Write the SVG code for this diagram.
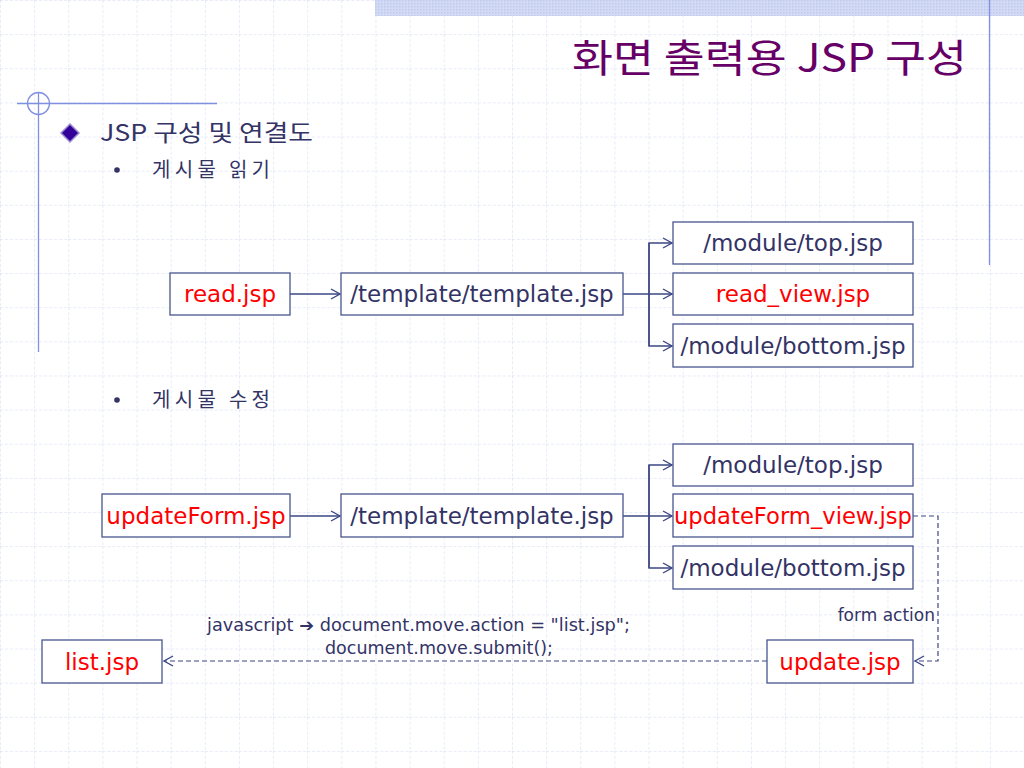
<svg xmlns="http://www.w3.org/2000/svg" width="1024" height="768" viewBox="0 0 1024 768">
<defs>
<style>
.box{fill:#ffffff;stroke:#4a5590;stroke-width:1.3}
.lbl{font-family:"DejaVu Sans",Verdana,sans-serif;font-size:23px;text-anchor:middle}
.blue{fill:#333366}
.red{fill:#ff0000}
.ko{font-family:"Noto Sans CJK KR","DejaVu Sans",sans-serif;fill:#333366}
.small{font-family:"DejaVu Sans",Verdana,sans-serif;font-size:17px;fill:#333366}
.con{fill:none;stroke:#3d4785;stroke-width:1.4}
.dash{fill:none;stroke:#3d4785;stroke-width:1.2;stroke-dasharray:5,3}
.deco{stroke:#8090e0;stroke-width:1.3;fill:none}
</style>
<pattern id="grid" x="0" y="0" width="34.133" height="34.133" patternUnits="userSpaceOnUse">
<path d="M0,0 H34.133 M0,0 V34.133" stroke="#d0d8f2" stroke-width="1" stroke-dasharray="3,2" fill="none"/>
</pattern>
<pattern id="dots" x="0" y="0" width="3" height="3" patternUnits="userSpaceOnUse">
<rect width="3" height="3" fill="#d3dbf4"/>
<rect width="1.5" height="1.5" fill="#bfcaee"/>
</pattern>
<marker id="arr" markerWidth="12" markerHeight="12" refX="10" refY="6" orient="auto" markerUnits="userSpaceOnUse">
<path d="M1,1 L10,6 L1,11" fill="none" stroke="#3d4785" stroke-width="1.4"/>
</marker>
</defs>
<rect width="1024" height="768" fill="#ffffff"/>
<rect width="1024" height="768" fill="url(#grid)"/>
<rect x="375" y="0" width="649" height="16" fill="url(#dots)"/>
<g id="decoration">
<line class="deco" x1="989.5" y1="0" x2="989.5" y2="265"/>
<line class="deco" x1="38.5" y1="92" x2="38.5" y2="352"/>
<line class="deco" x1="17" y1="103.5" x2="217" y2="103.5"/>
<circle class="deco" cx="38.5" cy="103.5" r="11"/>
</g>
<text id="title" x="572" y="72" textLength="395" lengthAdjust="spacingAndGlyphs" font-family="Noto Sans CJK KR,DejaVu Sans,sans-serif" font-size="39" fill="#660066">화면 출력용 JSP 구성</text>
<g id="heading">
<path d="M70,124 L79,133 L70,142 L61,133 Z" fill="#330099" stroke="#9a8fd0" stroke-width="1.5"/>
<text class="ko" x="100" y="141" font-size="23" textLength="213" lengthAdjust="spacingAndGlyphs">JSP 구성 및 연결도</text>
<circle cx="117" cy="170" r="2.8" fill="#333366"/>
<text class="ko" x="152" y="177" font-size="20" textLength="118" lengthAdjust="spacing">게시물 읽기</text>
<circle cx="117" cy="400" r="2.8" fill="#333366"/>
<text class="ko" x="152" y="407" font-size="20" textLength="118" lengthAdjust="spacing">게시물 수정</text>
</g>
<g id="connectors">
<line class="con" x1="290" y1="294" x2="340" y2="294" marker-end="url(#arr)"/>
<line class="con" x1="623" y1="294" x2="672" y2="294" marker-end="url(#arr)"/>
<path class="con" d="M649,346 V243 H672" marker-end="url(#arr)"/>
<path class="con" d="M649,243 V346 H672" marker-end="url(#arr)"/>
<line class="con" x1="290" y1="516" x2="340" y2="516" marker-end="url(#arr)"/>
<line class="con" x1="623" y1="516" x2="672" y2="516" marker-end="url(#arr)"/>
<path class="con" d="M649,568 V465 H672" marker-end="url(#arr)"/>
<path class="con" d="M649,465 V568 H672" marker-end="url(#arr)"/>
<path class="dash" d="M913,516 H938 V661 H915" marker-end="url(#arr)"/>
<line class="dash" x1="767" y1="661" x2="164" y2="661" marker-end="url(#arr)"/>
<text class="small" x="935" y="621" text-anchor="end">form action</text>
<text class="small" x="207" y="631" textLength="423" lengthAdjust="spacingAndGlyphs">javascript ➔ document.move.action = "list.jsp";</text>
<text class="small" x="325" y="654" textLength="228" lengthAdjust="spacingAndGlyphs">document.move.submit();</text>
</g>
<g id="n-read"><rect class="box" x="170" y="273" width="120" height="42"/><text class="lbl red" x="230" y="302">read.jsp</text></g>
<g id="n-template1"><rect class="box" x="341" y="273" width="282" height="42"/><text class="lbl blue" x="482" y="302">/template/template.jsp</text></g>
<g id="n-top1"><rect class="box" x="673" y="222" width="240" height="42"/><text class="lbl blue" x="793" y="251">/module/top.jsp</text></g>
<g id="n-readview"><rect class="box" x="673" y="273" width="240" height="42"/><text class="lbl red" x="793" y="302">read_view.jsp</text></g>
<g id="n-bottom1"><rect class="box" x="673" y="324" width="240" height="43"/><text class="lbl blue" x="793" y="354">/module/bottom.jsp</text></g>
<g id="n-updateform"><rect class="box" x="102" y="494" width="188" height="43"/><text class="lbl red" x="196" y="524">updateForm.jsp</text></g>
<g id="n-template2"><rect class="box" x="341" y="494" width="282" height="43"/><text class="lbl blue" x="482" y="524">/template/template.jsp</text></g>
<g id="n-top2"><rect class="box" x="673" y="444" width="240" height="42"/><text class="lbl blue" x="793" y="473">/module/top.jsp</text></g>
<g id="n-updateformview"><rect class="box" x="673" y="494" width="240" height="43"/><text class="lbl red" x="793" y="524" textLength="238" lengthAdjust="spacingAndGlyphs">updateForm_view.jsp</text></g>
<g id="n-bottom2"><rect class="box" x="673" y="546" width="240" height="43"/><text class="lbl blue" x="793" y="576">/module/bottom.jsp</text></g>
<g id="n-update"><rect class="box" x="767" y="640" width="146" height="43"/><text class="lbl red" x="840" y="670">update.jsp</text></g>
<g id="n-list"><rect class="box" x="42" y="640" width="120" height="43"/><text class="lbl red" x="102" y="670">list.jsp</text></g>
</svg>
